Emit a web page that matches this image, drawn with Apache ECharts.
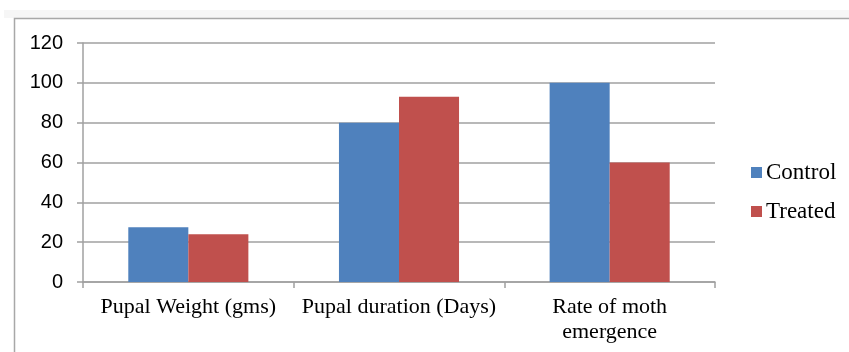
<!DOCTYPE html>
<html>
<head>
<meta charset="utf-8">
<script src="https://cdn.jsdelivr.net/npm/echarts@6/dist/echarts.min.js"></script>
<style>
  html, body { margin: 0; padding: 0; background: #fff; }
  #chart { width: 849px; height: 352px; }
</style>
</head>
<body>
<div id="chart"></div>
<script>
// 数据
const categories = ['Pupal Weight (gms)', 'Pupal duration (Days)', 'Rate of moth\nemergence'];
const controlValues = [27.5, 80, 100];
const treatedValues = [24, 93, 60];
const yTicks = { min: 0, max: 120, interval: 20 };

const chart = echarts.init(document.getElementById('chart'));

const option = {
    animation: false,
    // 外框
    graphic: [
        { type: 'rect', shape: { x: 4, y: 10, width: 845, height: 8 }, style: { fill: '#f6f6f6' }, silent: true },
        { type: 'rect', shape: { x: 14.5, y: 18.5, width: 850, height: 350 }, style: { fill: 'none', stroke: '#a8a8a8', lineWidth: 1.5 }, silent: true }
    ],
    grid: { left: 83, right: 134, top: 43, bottom: 70 },
    legend: {
        orient: 'vertical',
        left: 746,
        top: 156,
        icon: 'rect',
        itemWidth: 11,
        itemHeight: 11,
        itemGap: 16,
        textStyle: { fontFamily: 'Liberation Serif', fontSize: 23, color: '#000', padding: [0, 0, 0, -1] },
        data: ['Control', 'Treated']
    },
    xAxis: {
        type: 'category',
        data: categories,
        axisLine: { lineStyle: { color: '#a0a0a0', width: 1.5 } },
        axisTick: { show: true, length: 6, lineStyle: { color: '#a0a0a0', width: 1.5 } },
        axisLabel: {
            interval: 0,
            margin: 13,
            fontFamily: 'Liberation Serif',
            fontSize: 22,
            lineHeight: 25,
            color: '#000'
        }
    },
    yAxis: {
        type: 'value',
        min: yTicks.min,
        max: yTicks.max,
        interval: yTicks.interval,
        axisLine: { show: true, lineStyle: { color: '#a0a0a0', width: 1.5 } },
        axisTick: { show: true, length: 6, lineStyle: { color: '#a0a0a0', width: 1.5 } },
        splitLine: { lineStyle: { color: '#a0a0a0', width: 1.5 } },
        axisLabel: {
            margin: 20,
            fontFamily: 'Liberation Sans',
            fontSize: 20,
            color: '#000'
        }
    },
    series: [
        {
            name: 'Control',
            type: 'bar',
            data: controlValues,
            barGap: '0%',
            barCategoryGap: '43%',
            itemStyle: { color: '#4f81bd' }
        },
        {
            name: 'Treated',
            type: 'bar',
            data: treatedValues,
            itemStyle: { color: '#c0504d' }
        }
    ]
};

chart.setOption(option);
</script>
</body>
</html>
